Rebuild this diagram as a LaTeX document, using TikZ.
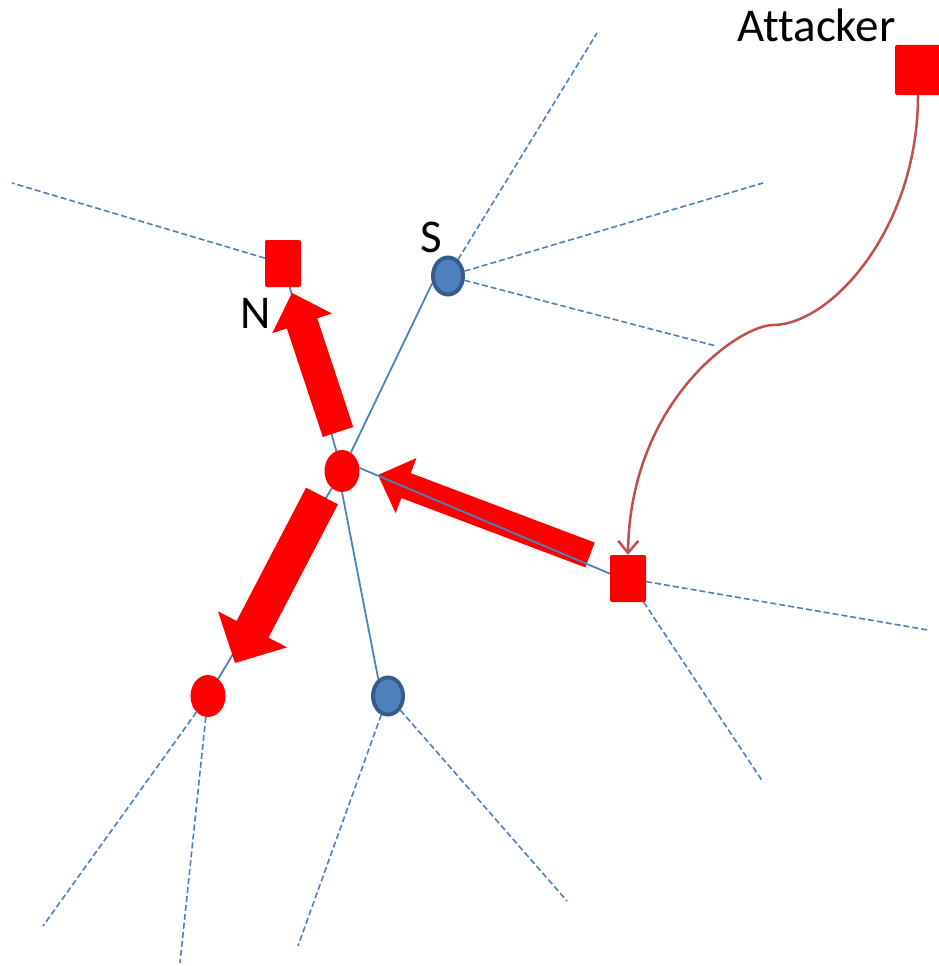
\documentclass[tikz,border=0pt]{standalone}
\usepackage{fontspec}
\setmainfont{Carlito}[Ligatures={NoCommon}]
\usetikzlibrary{shapes.geometric,calc,arrows.meta,backgrounds}
\definecolor{nodeblue}{HTML}{4F81BD}
\definecolor{borderblue}{HTML}{385D8A}
\definecolor{curvered}{HTML}{C0504D}
\newcommand{\fatarrow}[5]{%
  \coordinate (fa-h) at ($(#2)!#5!(#1)$);
  \fill[red] ($(#1)!#3!90:(#2)$) -- ($(fa-h)!#3!-90:(#1)$) -- ($(fa-h)!#4!-90:(#1)$) -- (#2)
    -- ($(fa-h)!#4!90:(#1)$) -- ($(fa-h)!#3!90:(#1)$) -- ($(#1)!#3!-90:(#2)$) -- cycle;}
\begin{document}
\begin{tikzpicture}[x=1pt,y=-1pt,
  redsq/.style={rectangle, fill=red, rounded corners=2pt, minimum width=36pt, minimum height=47pt, inner sep=0pt},
  redcirc/.style={ellipse, fill=red, minimum width=35pt, minimum height=42pt, inner sep=0pt},
  bluecirc/.style={ellipse, fill=nodeblue, draw=borderblue, line width=4pt, minimum width=30pt, minimum height=37pt, inner sep=0pt},
  link/.style={draw=nodeblue, line width=1.8pt},
  dlink/.style={draw=nodeblue, line width=1.6pt, dash pattern=on 6pt off 3pt},
  lbl/.style={font=\fontsize{47}{47}\selectfont, inner sep=0pt, anchor=base west},
  attack/.style={draw=curvered, line width=2.5pt, -{Straight Barb[length=12pt,width=20pt]}}]
\useasboundingbox (0,0) rectangle (938,966);
% nodes
\node[redsq, minimum width=46pt, minimum height=50pt] (A) at (918,70) {};
\node[lbl] (Alab) at (737,42) {Attacker};
\node[bluecirc] (S) at (448,276) {};
\node[lbl] (Slab) at (420,252) {S};
\node[redsq] (N) at (283,263.5) {};
\node[lbl] (Nlab) at (240,328) {N};
\node[redcirc] (C) at (342,471) {};
\node[redsq] (R) at (628,578.5) {};
\node[redcirc] (L) at (208,696) {};
\node[bluecirc] (B) at (388,696) {};
% free ends
\coordinate (n1) at (12,183);
\coordinate (s1) at (597,33);
\coordinate (s2) at (763,183);
\coordinate (s3) at (716,346);
\coordinate (r1) at (928,630);
\coordinate (r2) at (763,782);
\coordinate (l1) at (43,926);
\coordinate (l2) at (180,963);
\coordinate (b1) at (298,946);
\coordinate (b2) at (567,901);
\coordinate (mid) at (773,325);
% fat arrow ends
\coordinate (a1t) at (338,432);
\coordinate (a1h) at (292,293);
\coordinate (a2t) at (590,555);
\coordinate (a2h) at (378,475);
\coordinate (a3t) at (322,496);
\coordinate (a3h) at (235,663);
\begin{scope}[on background layer]
  \fill[white] (0,0) rectangle (938,966);
  \draw[dlink] (N) -- (n1);
  \draw[dlink] (S) -- (s1);
  \draw[dlink] (S) -- (s2);
  \draw[dlink] (S) -- (s3);
  \draw[dlink] (R) -- (r1);
  \draw[dlink] (R) -- (r2);
  \draw[dlink] (L) -- (l1);
  \draw[dlink] (L) -- (l2);
  \draw[dlink] (B) -- (b1);
  \draw[dlink] (B) -- (b2);
  \draw[link] (N) -- (C);
  \draw[link] (C) -- (S.205);
  \draw[link] (C) -- (L);
  \draw[link] (C.south) -- (B.120);
\end{scope}
\fatarrow{a1t}{a1h}{16pt}{31.5pt}{32pt}
\fatarrow{a3t}{a3h}{18pt}{39pt}{38pt}
\fatarrow{a2t}{a2h}{13.3pt}{29.5pt}{30pt}
\draw[link] (C.10) -- (R.165);
\draw[attack] (A.south) .. controls (918,230) and (830,325) .. (mid) .. controls (740,325) and (630,400) .. (R.north);
\end{tikzpicture}
\end{document}
